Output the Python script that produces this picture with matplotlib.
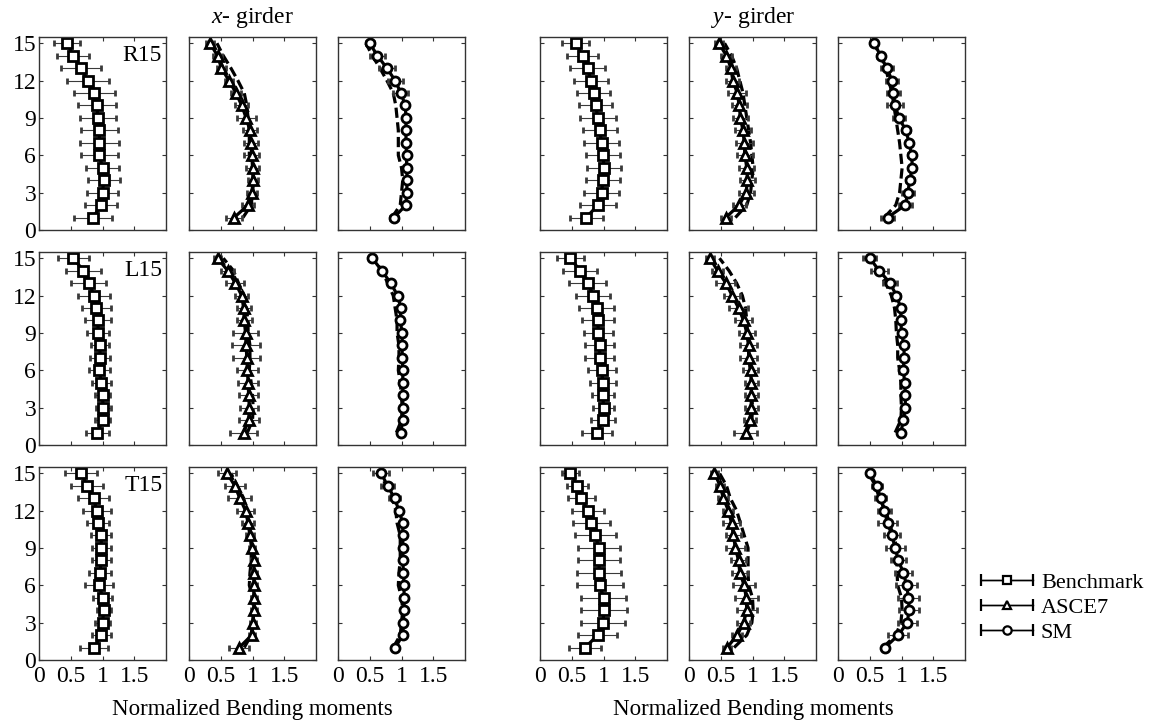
import matplotlib
matplotlib.use('Agg')
import matplotlib.pyplot as plt
from matplotlib.legend_handler import HandlerErrorbar
from matplotlib.container import ErrorbarContainer
import numpy as np

plt.rcParams['font.family'] = ['Liberation Serif', 'DejaVu Serif']
plt.rcParams['mathtext.fontset'] = 'custom'
plt.rcParams['mathtext.rm'] = 'Liberation Serif'
plt.rcParams['mathtext.it'] = 'Liberation Serif:italic'

# Floors 1..15
floors = np.arange(1, 16)
cases = ['R15', 'L15', 'T15']
methods = ['Benchmark', 'ASCE7', 'SM']

# ---- x- girder, mean values (floor 1 -> 15) ----
r15_x_bench = [0.85, 0.98, 1.00, 1.02, 1.00, 0.95, 0.95, 0.95, 0.93, 0.91, 0.87, 0.77, 0.66, 0.54, 0.44]
r15_x_bench_err = [0.30, 0.25, 0.25, 0.25, 0.26, 0.29, 0.31, 0.29, 0.29, 0.30, 0.32, 0.33, 0.31, 0.25, 0.20]
r15_x_asce = [0.71, 0.93, 0.99, 1.01, 1.00, 0.99, 0.97, 0.96, 0.90, 0.83, 0.74, 0.63, 0.51, 0.45, 0.33]
r15_x_asce_err = [0.13, 0.10, 0.08, 0.08, 0.11, 0.12, 0.11, 0.11, 0.15, 0.10, 0.08, 0.07, 0.07, 0.07, 0.06]
r15_x_sm = [0.88, 1.07, 1.08, 1.09, 1.08, 1.08, 1.07, 1.07, 1.07, 1.06, 0.99, 0.90, 0.77, 0.62, 0.50]
r15_x_sm_err = [0.06, 0.04, 0.04, 0.04, 0.04, 0.04, 0.04, 0.04, 0.04, 0.04, 0.12, 0.12, 0.12, 0.12, 0.06]

l15_x_bench = [0.92, 1.00, 1.01, 1.00, 0.98, 0.95, 0.96, 0.96, 0.93, 0.93, 0.90, 0.87, 0.78, 0.70, 0.54]
l15_x_bench_err = [0.18, 0.12, 0.12, 0.12, 0.15, 0.17, 0.16, 0.14, 0.17, 0.20, 0.23, 0.25, 0.27, 0.27, 0.24]
l15_x_asce = [0.86, 0.94, 0.95, 0.94, 0.93, 0.92, 0.91, 0.90, 0.89, 0.87, 0.86, 0.83, 0.73, 0.61, 0.45]
l15_x_asce_err = [0.21, 0.16, 0.14, 0.15, 0.16, 0.17, 0.21, 0.22, 0.19, 0.12, 0.11, 0.10, 0.14, 0.10, 0.05]
l15_x_sm = [0.99, 1.02, 1.02, 1.02, 1.02, 1.02, 1.01, 1.01, 1.01, 0.98, 0.99, 0.94, 0.83, 0.69, 0.54]
l15_x_sm_err = [0.04] * 15

t15_x_bench = [0.87, 0.98, 1.00, 1.02, 1.00, 0.95, 0.96, 0.98, 0.98, 0.98, 0.93, 0.91, 0.86, 0.76, 0.66]
t15_x_bench_err = [0.22, 0.15, 0.12, 0.11, 0.15, 0.22, 0.18, 0.15, 0.15, 0.16, 0.18, 0.22, 0.24, 0.25, 0.25]
t15_x_asce = [0.79, 0.99, 1.01, 1.02, 1.02, 1.02, 1.02, 1.02, 0.99, 0.96, 0.93, 0.89, 0.80, 0.72, 0.60]
t15_x_asce_err = [0.16, 0.05, 0.05, 0.05, 0.05, 0.05, 0.05, 0.05, 0.05, 0.06, 0.10, 0.13, 0.18, 0.16, 0.14]
t15_x_sm = [0.90, 1.02, 1.03, 1.04, 1.04, 1.04, 1.03, 1.02, 1.02, 1.02, 1.02, 0.96, 0.89, 0.78, 0.68]
t15_x_sm_err = [0.05, 0.04, 0.04, 0.04, 0.04, 0.04, 0.04, 0.04, 0.04, 0.04, 0.04, 0.05, 0.08, 0.10, 0.13]

# ---- y- girder ----
r15_y_bench = [0.73, 0.91, 0.97, 0.99, 1.01, 0.99, 0.97, 0.94, 0.91, 0.88, 0.85, 0.80, 0.75, 0.67, 0.56]
r15_y_bench_err = [0.26, 0.28, 0.27, 0.27, 0.27, 0.27, 0.27, 0.27, 0.28, 0.26, 0.26, 0.27, 0.28, 0.24, 0.21]
r15_y_asce = [0.58, 0.79, 0.90, 0.92, 0.91, 0.88, 0.87, 0.85, 0.81, 0.79, 0.76, 0.69, 0.66, 0.59, 0.47]
r15_y_asce_err = [0.08, 0.10, 0.12, 0.12, 0.12, 0.13, 0.13, 0.12, 0.12, 0.12, 0.14, 0.10, 0.08, 0.08, 0.06]
r15_y_sm = [0.78, 1.06, 1.10, 1.13, 1.17, 1.16, 1.12, 1.07, 0.96, 0.90, 0.87, 0.85, 0.77, 0.67, 0.57]
r15_y_sm_err = [0.10, 0.10, 0.10, 0.06, 0.05, 0.05, 0.05, 0.06, 0.10, 0.13, 0.10, 0.10, 0.10, 0.06, 0.04]

l15_y_bench = [0.90, 0.99, 1.00, 0.99, 0.99, 0.97, 0.94, 0.94, 0.92, 0.91, 0.89, 0.84, 0.75, 0.63, 0.48]
l15_y_bench_err = [0.24, 0.19, 0.17, 0.17, 0.21, 0.22, 0.23, 0.23, 0.23, 0.25, 0.27, 0.27, 0.29, 0.26, 0.21]
l15_y_asce = [0.89, 0.96, 0.98, 0.98, 0.98, 0.97, 0.94, 0.94, 0.91, 0.86, 0.78, 0.68, 0.58, 0.45, 0.33]
l15_y_asce_err = [0.18, 0.10, 0.10, 0.10, 0.10, 0.12, 0.13, 0.13, 0.13, 0.13, 0.15, 0.13, 0.15, 0.08, 0.06]
l15_y_sm = [0.99, 1.03, 1.06, 1.06, 1.05, 1.03, 1.04, 1.04, 1.00, 0.99, 0.99, 0.92, 0.82, 0.65, 0.50]
l15_y_sm_err = [0.04, 0.04, 0.04, 0.04, 0.04, 0.04, 0.04, 0.04, 0.04, 0.04, 0.04, 0.06, 0.11, 0.13, 0.10]

t15_y_bench = [0.71, 0.91, 0.99, 1.01, 1.00, 0.94, 0.93, 0.93, 0.93, 0.87, 0.81, 0.75, 0.65, 0.59, 0.48]
t15_y_bench_err = [0.25, 0.31, 0.35, 0.36, 0.36, 0.36, 0.35, 0.33, 0.33, 0.32, 0.29, 0.25, 0.21, 0.17, 0.14]
t15_y_asce = [0.60, 0.76, 0.86, 0.91, 0.90, 0.87, 0.80, 0.78, 0.73, 0.70, 0.67, 0.62, 0.54, 0.49, 0.40]
t15_y_asce_err = [0.06, 0.08, 0.10, 0.16, 0.18, 0.17, 0.13, 0.12, 0.15, 0.12, 0.14, 0.08, 0.08, 0.06, 0.05]
t15_y_sm = [0.74, 0.95, 1.09, 1.12, 1.11, 1.08, 1.03, 0.95, 0.90, 0.85, 0.78, 0.73, 0.67, 0.61, 0.50]
t15_y_sm_err = [0.05, 0.16, 0.15, 0.16, 0.16, 0.16, 0.14, 0.12, 0.15, 0.13, 0.15, 0.10, 0.08, 0.08, 0.05]

# rows = cases, each row: x-girder (bench, asce, sm), y-girder (bench, asce, sm)
data = {
    'R15': [(r15_x_bench, r15_x_bench_err), (r15_x_asce, r15_x_asce_err), (r15_x_sm, r15_x_sm_err),
            (r15_y_bench, r15_y_bench_err), (r15_y_asce, r15_y_asce_err), (r15_y_sm, r15_y_sm_err)],
    'L15': [(l15_x_bench, l15_x_bench_err), (l15_x_asce, l15_x_asce_err), (l15_x_sm, l15_x_sm_err),
            (l15_y_bench, l15_y_bench_err), (l15_y_asce, l15_y_asce_err), (l15_y_sm, l15_y_sm_err)],
    'T15': [(t15_x_bench, t15_x_bench_err), (t15_x_asce, t15_x_asce_err), (t15_x_sm, t15_x_sm_err),
            (t15_y_bench, t15_y_bench_err), (t15_y_asce, t15_y_asce_err), (t15_y_sm, t15_y_sm_err)],
}

markers = ['s', '^', 'o']
msizes = [6.5, 6.8, 6.5]

W, H = 1156, 724
fig = plt.figure(figsize=(W / 100, H / 100), dpi=100)

# panel layout in pixels
col_left = [39, 189, 338, 540, 689, 838]
row_top = [37, 252, 467]
pw, ph = 127, 193

fs = 17
for r, case in enumerate(cases):
    for c in range(6):
        ax = fig.add_axes([col_left[c] / W, 1 - (row_top[r] + ph) / H, pw / W, ph / H])
        m = c % 3
        vals, err = data[case][c]
        bench = data[case][0 if c < 3 else 3][0]
        if m > 0:
            # benchmark mean as dashed reference
            ax.plot(bench, floors, color='black', lw=2.3, dashes=(3.2, 1.4), zorder=1.8)
        ax.errorbar(vals, floors, xerr=err, fmt='-', color='black', lw=2.3,
                    marker=markers[m], ms=msizes[m], mfc='white', mec='black', mew=2.0,
                    ecolor='#3a3a3a', elinewidth=0.8, capsize=2.5, capthick=0.8)

        ax.set_xlim(0, 2)
        ax.set_ylim(0, 15.5)
        ax.set_xticks([0, 0.5, 1, 1.5])
        ax.set_yticks([0, 3, 6, 9, 12, 15])
        ax.tick_params(direction='in', top=True, right=True, length=3, width=0.8,
                       labelsize=fs, colors='#333333', labelcolor='black', pad=2)
        ax.tick_params(axis='x', pad=4)
        if r < 2:
            ax.set_xticklabels([])
        else:
            ax.set_xticklabels(['0', '0.5', '1', '1.5'])
        if c != 0:
            ax.set_yticklabels([])
        else:
            ax.text(0.97, 0.905, case, transform=ax.transAxes, ha='right', va='center', fontsize=fs)
        for s in ax.spines.values():
            s.set_color('#333333')
            s.set_linewidth(1.0)

# group titles and axis labels
fig.text(252 / W, 1 - 17 / H, '$x$- girder', ha='center', va='center', fontsize=fs)
fig.text(753 / W, 1 - 17 / H, '$y$- girder', ha='center', va='center', fontsize=fs)
fig.text(252 / W, 1 - 709 / H, 'Normalized Bending moments', ha='center', va='center', fontsize=fs - 0.5)
fig.text(753 / W, 1 - 709 / H, 'Normalized Bending moments', ha='center', va='center', fontsize=fs - 0.5)

# legend handles drawn thin, like the reference key
dummy = fig.add_axes([0, 0, 0.01, 0.01])
handles = []
for m in range(3):
    handles.append(dummy.errorbar([1], [1], xerr=[0.1], fmt='-', color='black', lw=1.0,
                                  marker=markers[m], ms=6, mfc='white', mec='black', mew=1.6,
                                  ecolor='black', elinewidth=1.0, capsize=4, capthick=1.0))
dummy.set_visible(False)

fig.legend(handles, methods, loc='center left', bbox_to_anchor=(972 / W, 1 - 608 / H),
           frameon=False, fontsize=16, handlelength=2.35, handletextpad=0.35,
           labelspacing=0.2, borderaxespad=0,
           handler_map={ErrorbarContainer: HandlerErrorbar(xerr_size=1.18)})

plt.savefig('out.png', dpi=100)
